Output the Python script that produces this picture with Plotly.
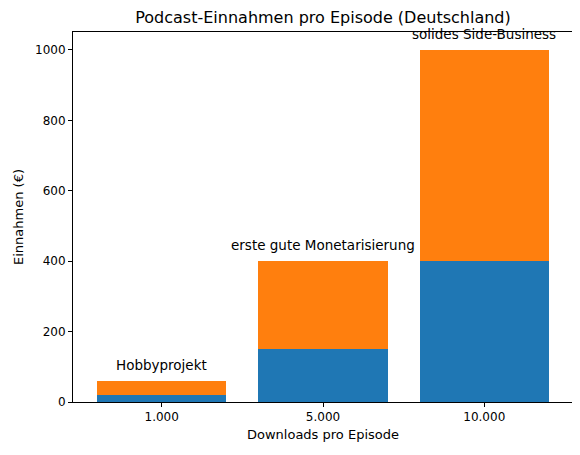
import plotly.graph_objects as go

categories = ["1.000", "5.000", "10.000"]
basis = [20, 150, 400]
zusatz = [40, 250, 600]
labels = ["Hobbyprojekt", "erste gute Monetarisierung", "solides Side-Business"]

totals = [a + b for a, b in zip(basis, zusatz)]
xs = list(range(len(categories)))

fig = go.Figure()
fig.add_bar(x=xs, y=basis, marker_color="#1f77b4", width=0.8, marker_line_width=0)
fig.add_bar(x=xs, y=zusatz, marker_color="#ff7f0e", width=0.8, marker_line_width=0)

for x, t, lab in zip(xs, totals, labels):
    fig.add_annotation(x=x, y=t, text=lab, showarrow=False, yshift=16,
                       font=dict(size=13.5, color="black"))

axis_common = dict(showgrid=False, zeroline=False, showline=True, mirror=True,
                   linecolor="black", linewidth=1, ticks="outside", ticklen=4,
                   tickcolor="black", tickfont=dict(size=12, color="black"),
                   automargin=False)

# the page body adds 8px of offset, margins compensate for it
fig.update_layout(
    barmode="stack",
    showlegend=False,
    width=580, height=455,
    margin=dict(l=65, r=15, t=24, b=61, autoexpand=False),
    paper_bgcolor="white", plot_bgcolor="white",
    font=dict(family="DejaVu Sans", color="black"),
    title=dict(text="Podcast-Einnahmen pro Episode (Deutschland)", xref="paper", x=0.5,
               xanchor="center", yref="container", y=0.98, yanchor="middle",
               font=dict(size=16), automargin=False),
    xaxis=dict(axis_common, range=[-0.55, 2.55], tickvals=xs, ticktext=categories,
               title=dict(text="Downloads pro Episode", font=dict(size=13), standoff=6)),
    yaxis=dict(axis_common, range=[0, 1051], tickvals=[0, 200, 400, 600, 800, 1000],
               title=dict(text="Einnahmen (€)", font=dict(size=13), standoff=8)),
)

fig.write_html("out.html")
